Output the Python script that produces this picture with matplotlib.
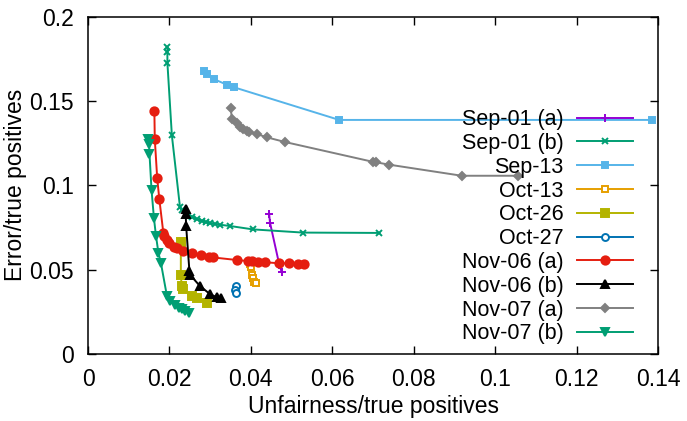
import matplotlib
matplotlib.use('Agg')
import matplotlib.pyplot as plt
from matplotlib.ticker import FormatStrFormatter

plt.rcParams['font.family'] = ['Liberation Sans', 'DejaVu Sans']

# (unfairness/tp, error/tp)
sep01a_x = [0.0445, 0.0447, 0.0470, 0.0476]
sep01a_y = [0.0828, 0.0779, 0.0528, 0.0484]

sep01b_x = [0.0195, 0.0195, 0.0195, 0.0206, 0.0226, 0.0230, 0.0255, 0.0267, 0.0279,
            0.0290, 0.0300, 0.0312, 0.0323, 0.0349, 0.0405, 0.0528, 0.0715]
sep01b_y = [0.1818, 0.1791, 0.1726, 0.1296, 0.0869, 0.0854, 0.0814, 0.0799, 0.0790,
            0.0781, 0.0775, 0.0771, 0.0767, 0.0759, 0.0739, 0.0720, 0.0718]

sep13_x = [0.0284, 0.0292, 0.0309, 0.0341, 0.0358, 0.0617, 0.1385]
sep13_y = [0.1680, 0.1659, 0.1630, 0.1597, 0.1582, 0.1388, 0.1388]

oct13_x = [0.0398, 0.0400, 0.0402, 0.0405, 0.0408, 0.0413]
oct13_y = [0.0534, 0.0518, 0.0468, 0.0449, 0.0429, 0.0419]

oct26_x = [0.0228, 0.0228, 0.0230, 0.0234, 0.0255, 0.0268, 0.0293]
oct26_y = [0.0666, 0.0468, 0.0406, 0.0384, 0.0344, 0.0330, 0.0302]

oct27_x = [0.0363, 0.0362, 0.0363]
oct27_y = [0.0401, 0.0381, 0.0362]

nov06a_x = [0.0163, 0.0164, 0.0170, 0.0175, 0.0185, 0.0187, 0.0193, 0.0200, 0.0210,
            0.0218, 0.0234, 0.0255, 0.0277, 0.0296, 0.0306, 0.0367, 0.0394, 0.0402,
            0.0418, 0.0435, 0.0470, 0.0494, 0.0515, 0.0531]
nov06a_y = [0.1442, 0.1275, 0.1041, 0.0922, 0.0719, 0.0700, 0.0676, 0.0656, 0.0636,
            0.0627, 0.0611, 0.0597, 0.0585, 0.0577, 0.0573, 0.0557, 0.0551, 0.0551,
            0.0547, 0.0544, 0.0538, 0.0538, 0.0535, 0.0535]

nov06b_x = [0.0240, 0.0240, 0.0241, 0.0249, 0.0251, 0.0274, 0.0299, 0.0316, 0.0327]
nov06b_y = [0.0858, 0.0830, 0.0759, 0.0495, 0.0468, 0.0406, 0.0356, 0.0337, 0.0332]

nov07a_x = [0.0351, 0.0353, 0.0365, 0.0373, 0.0381, 0.0390, 0.0396, 0.0414, 0.0439,
            0.0484, 0.0699, 0.0707, 0.0739, 0.0918, 0.1057]
nov07a_y = [0.1457, 0.1394, 0.1368, 0.1348, 0.1332, 0.1322, 0.1318, 0.1305, 0.1285,
            0.1257, 0.1140, 0.1137, 0.1123, 0.1057, 0.1057]

nov07b_x = [0.0148, 0.0150, 0.0151, 0.0156, 0.0162, 0.0167, 0.0173, 0.0179, 0.0194,
            0.0201, 0.0214, 0.0224, 0.0230, 0.0238, 0.0247]
nov07b_y = [0.1274, 0.1246, 0.1188, 0.0973, 0.0804, 0.0700, 0.0599, 0.0541, 0.0342,
            0.0313, 0.0288, 0.0275, 0.0265, 0.0255, 0.0245]

# label, x, y, colour, marker, marker size, filled
series = [
    ('Sep-01 (a)', sep01a_x, sep01a_y, '#9400d3', '+', 6, True),
    ('Sep-01 (b)', sep01b_x, sep01b_y, '#009e73', 'x', 5, True),
    ('Sep-13', sep13_x, sep13_y, '#56b4e9', 's', 4.5, True),
    ('Oct-13', oct13_x, oct13_y, '#e69f00', 's', 5, False),
    ('Oct-26', oct26_x, oct26_y, '#b4b400', 's', 6, True),
    ('Oct-27', oct27_x, oct27_y, '#0072b2', 'o', 5, False),
    ('Nov-06 (a)', nov06a_x, nov06a_y, '#e51e10', 'o', 6, True),
    ('Nov-06 (b)', nov06b_x, nov06b_y, 'black', '^', 6, True),
    ('Nov-07 (a)', nov07a_x, nov07a_y, '#808080', 'D', 4.5, True),
    ('Nov-07 (b)', nov07b_x, nov07b_y, '#009e73', 'v', 6, True),
]

fig = plt.figure(figsize=(6.87, 4.21), dpi=100)
ax = fig.add_axes([0.1281, 0.1591, 0.8297, 0.8012])

for name, x, y, col, mk, ms, filled in series:
    ax.plot(x, y, color=col, lw=1.4, marker=mk, ms=ms, mew=1.4,
            mfc=col if filled else 'white', mec=col, label=name)

ax.set_xlim(0, 0.14)
ax.set_ylim(0, 0.2)
ax.set_xticks([0, 0.02, 0.04, 0.06, 0.08, 0.1, 0.12, 0.14])
ax.set_yticks([0, 0.05, 0.1, 0.15, 0.2])
ax.xaxis.set_major_formatter(FormatStrFormatter('%g'))
ax.yaxis.set_major_formatter(FormatStrFormatter('%g'))
ax.tick_params(direction='in', length=6, width=1, top=True, right=True,
               labelsize=16.5, pad=10)
for sp in ax.spines.values():
    sp.set_linewidth(1.1)
ax.set_xlabel('Unfairness/true positives', fontsize=16.5, labelpad=3)
ax.set_ylabel('Error/true positives', fontsize=16.5, labelpad=2)

# markerfirst=False puts the sample on the right and right-aligns the labels
ax.legend(loc='upper right', bbox_to_anchor=(0.9556, 0.726), frameon=False,
          markerfirst=False, fontsize=15.5, borderpad=0, borderaxespad=0,
          handlelength=2.6, handletextpad=0.6, labelspacing=0.13)

fig.savefig('out.png', dpi=100)
